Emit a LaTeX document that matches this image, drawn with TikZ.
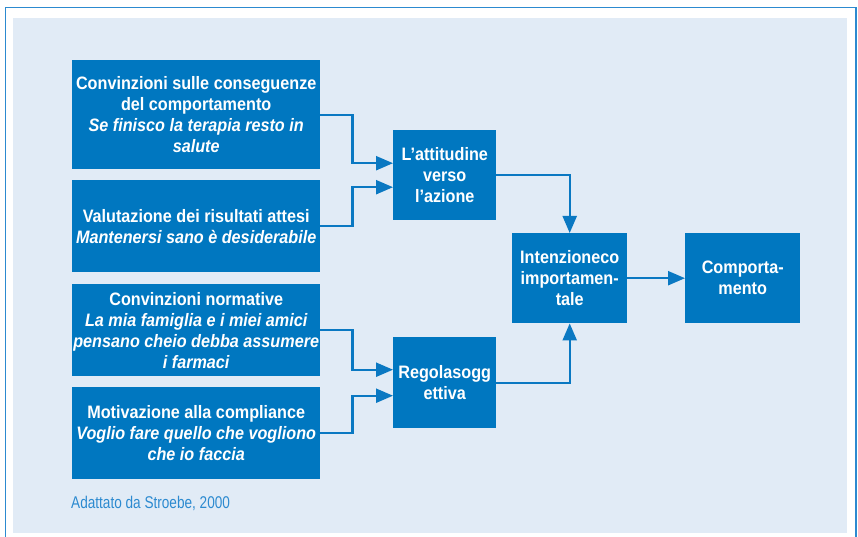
\documentclass[tikz,border=0pt]{standalone}
\usepackage{fontspec}
\setmainfont[FakeStretch=0.9]{Liberation Sans}
\newfontfamily\capfont[FakeStretch=0.8]{Liberation Sans}
\usetikzlibrary{arrows.meta,calc}
\definecolor{boxblue}{HTML}{0077C0}
\definecolor{panel}{HTML}{E1EBF6}
\definecolor{framec}{HTML}{2C8AD0}
\definecolor{arrowc}{HTML}{0A78C2}
\tikzset{
  blk/.style={draw=none, fill=boxblue, text=white, anchor=north west, inner sep=0pt,
    align=center, font=\fontsize{18}{21}\selectfont\bfseries},
  conn/.style={draw=arrowc, line width=2.2pt, -{Triangle[length=17pt,width=14pt]}}
}
\begin{document}
\begin{tikzpicture}[x=1pt,y=-1pt]
\useasboundingbox (0,0) rectangle (858,537);
\fill[panel] (13,18) rectangle (847,533);
\draw[framec, line width=1.2pt] (5.5,537) -- (5.5,7.5) -- (856,7.5) -- (856,537);

\node[blk, minimum width=248pt, minimum height=109pt] (b1) at (72,60)
  {Convinzioni sulle conseguenze\\del comportamento\\\itshape Se finisco la terapia resto in\\\itshape salute};
\node[blk, minimum width=248pt, minimum height=92pt] (b2) at (72,180)
  {Valutazione dei risultati attesi\\\itshape Mantenersi sano è desiderabile};
\node[blk, minimum width=248pt, minimum height=92pt] (b3) at (72,284)
  {Convinzioni normative\\\itshape La mia famiglia e i miei amici\\\itshape pensano cheio debba assumere\\\itshape i farmaci};
\node[blk, minimum width=248pt, minimum height=92pt] (b4) at (72,387)
  {Motivazione alla compliance\\\itshape Voglio fare quello che vogliono\\\itshape che io faccia};

\node[blk, minimum width=103pt, minimum height=90pt] (att) at (393,130)
  {L’attitudine\\verso\\l’azione};
\node[blk, minimum width=103pt, minimum height=91pt] (reg) at (393,337)
  {Regolasogg\\ettiva};
\node[blk, minimum width=115pt, minimum height=90pt] (int) at (512,233)
  {Intenzioneco\\importamen-\\tale};
\node[blk, minimum width=115pt, minimum height=90pt] (comp) at (685,233)
  {Comporta-\\mento};

\node[anchor=west, text=framec, inner sep=0pt, font=\capfont\fontsize{17}{19}\selectfont] (src) at (71,503)
  {Adattato da Stroebe, 2000};

\draw[conn] (b1.east) -- ++(32,0) |- ($(att.west)+(0,-12)$);
\draw[conn] (b2.east) -- ++(32,0) |- ($(att.west)+(0,12)$);
\draw[conn] (b3.east) -- ++(32,0) |- ($(reg.west)+(0,-13)$);
\draw[conn] (b4.east) -- ++(32,0) |- ($(reg.west)+(0,13)$);
\draw[conn] (att.east) -| (int.north);
\draw[conn] (reg.east) -| (int.south);
\draw[conn] (int.east) -- (comp.west);
\end{tikzpicture}
\end{document}
